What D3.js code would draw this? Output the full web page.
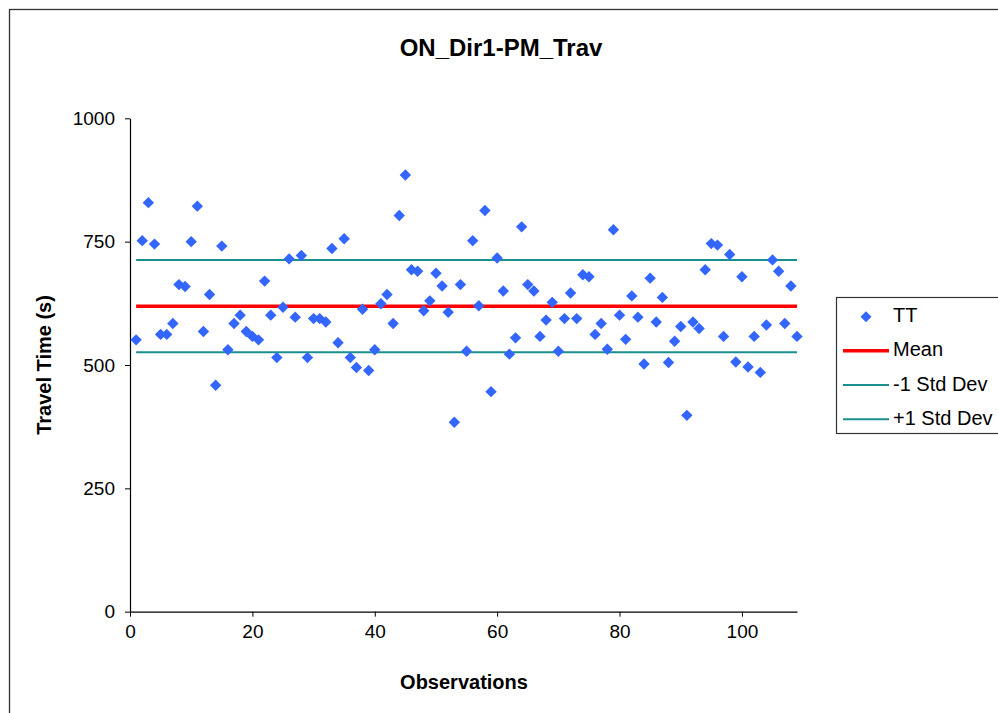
<!DOCTYPE html>
<html>
<head>
<meta charset="utf-8">
<script src="https://cdn.jsdelivr.net/npm/d3@7"></script>
<style>
  html, body { margin: 0; padding: 0; background: #ffffff; overflow: hidden; }
  svg { display: block; font-family: "Liberation Sans", Arial, sans-serif; }
</style>
</head>
<body>
<svg id="chart" width="998" height="713"></svg>
<script>
// ---- data ----
const title = "ON_Dir1-PM_Trav";
const xTitle = "Observations";
const yTitle = "Travel Time (s)";
const observations = d3.range(1, 110);
const travelTimes = [
  551, 752, 829, 745, 562, 562, 584, 663, 659, 750,
  822, 568, 643, 459, 741, 531, 584, 601, 568, 558,
  551, 670, 601, 515, 617, 715, 597, 722, 515, 594,
  594, 587, 736, 545, 756, 515, 495, 613, 489, 531,
  624, 643, 584, 803, 885, 693, 690, 610, 630, 686,
  660, 607, 384, 663, 528, 752, 620, 813, 446, 717,
  650, 522, 555, 780, 663, 650, 558, 591, 627, 528,
  594, 646, 594, 683, 679, 562, 584, 532, 774, 601,
  552, 640, 597, 502, 676, 587, 637, 505, 548, 578,
  398, 587, 574, 693, 746, 743, 558, 724, 506, 679,
  496, 558, 485, 581, 713, 690, 584, 660, 558
];
const meanValue = 619;
const minusStdValue = 526;
const plusStdValue = 713;
const xTicks = [0, 20, 40, 60, 80, 100];
const yTicks = [0, 250, 500, 750, 1000];
const legendLabels = ["TT", "Mean", "-1 Std Dev", "+1 Std Dev"];

// ---- drawing ----
const svg = d3.select("#chart");
const colBlue = "#3366ff", colRed = "#ff0000", colTeal = "#1a8f8f";

// outer chart border (extends past window)
svg.append("rect").attr("x", 9.5).attr("y", 9.5).attr("width", 1100).attr("height", 900)
  .attr("fill", "#fff").attr("stroke", "#333").attr("stroke-width", 1.3);

const x = d3.scaleLinear().domain([0, 109]).range([130, 797]);
const y = d3.scaleLinear().domain([0, 1000]).range([611.7, 118.3]);

// title
svg.append("text").attr("x", 501).attr("y", 56).attr("text-anchor", "middle")
  .attr("font-size", 24).attr("font-weight", "bold").text(title);

// axes
const xAxis = d3.axisBottom(x).tickValues(xTicks).tickFormat(d3.format("d")).tickSize(5).tickPadding(8).tickSizeOuter(0);
const gx = svg.append("g").attr("transform", `translate(0,${y(0)})`).call(xAxis);
gx.select(".domain").attr("stroke", "#000").attr("stroke-width", 1.2);
gx.selectAll(".tick line").attr("stroke", "#000");
gx.selectAll(".tick text").attr("font-size", 19).attr("font-family", "Liberation Sans, Arial, sans-serif").attr("fill", "#000");

const yAxis = d3.axisLeft(y).tickValues(yTicks).tickFormat(d3.format("d")).tickSize(5).tickPadding(10).tickSizeOuter(0);
const gy = svg.append("g").attr("transform", `translate(${x(0)},0)`).call(yAxis);
gy.select(".domain").attr("stroke", "#000").attr("stroke-width", 1.2);
gy.selectAll(".tick line").attr("stroke", "#000");
gy.selectAll(".tick text").attr("font-size", 19).attr("font-family", "Liberation Sans, Arial, sans-serif").attr("fill", "#000");

// axis titles
svg.append("text").attr("x", 464).attr("y", 689).attr("text-anchor", "middle")
  .attr("font-size", 20).attr("font-weight", "bold").text(xTitle);
svg.append("text").attr("transform", `translate(51,${y(500)}) rotate(-90)`).attr("text-anchor", "middle")
  .attr("font-size", 20).attr("font-weight", "bold").text(yTitle);

// reference lines
const x0 = observations[0], x1 = observations[observations.length - 1];
[[minusStdValue, colTeal, 2], [plusStdValue, colTeal, 2], [meanValue, colRed, 3.5]].forEach(([v, c, w]) => {
  svg.append("line").attr("x1", x(x0)).attr("x2", x(x1)).attr("y1", y(v)).attr("y2", y(v))
    .attr("stroke", c).attr("stroke-width", w);
});

// points
const diamond = (cx, cy, r) => `M${cx},${cy - r}L${cx + r},${cy}L${cx},${cy + r}L${cx - r},${cy}Z`;
svg.append("g").selectAll("path").data(travelTimes).join("path")
  .attr("d", (d, i) => diamond(x(observations[i]), y(d), 5.7))
  .attr("fill", colBlue);

// legend
const lg = svg.append("g");
lg.append("rect").attr("x", 836.5).attr("y", 297.5).attr("width", 200).attr("height", 136)
  .attr("fill", "#fff").attr("stroke", "#333").attr("stroke-width", 1.2);
const rowsY = [316.7, 350.7, 385, 419.3];
lg.append("path").attr("d", diamond(866, rowsY[0], 5.5)).attr("fill", colBlue);
lg.append("line").attr("x1", 843).attr("x2", 889).attr("y1", rowsY[1]).attr("y2", rowsY[1]).attr("stroke", colRed).attr("stroke-width", 3.5);
lg.append("line").attr("x1", 843).attr("x2", 889).attr("y1", rowsY[2]).attr("y2", rowsY[2]).attr("stroke", colTeal).attr("stroke-width", 2);
lg.append("line").attr("x1", 843).attr("x2", 889).attr("y1", rowsY[3]).attr("y2", rowsY[3]).attr("stroke", colTeal).attr("stroke-width", 2);
legendLabels.forEach((t, i) => {
  lg.append("text").attr("x", 893).attr("y", rowsY[i] + 5.5).attr("font-size", 20).attr("fill", "#000").text(t);
});
</script>
</body>
</html>
